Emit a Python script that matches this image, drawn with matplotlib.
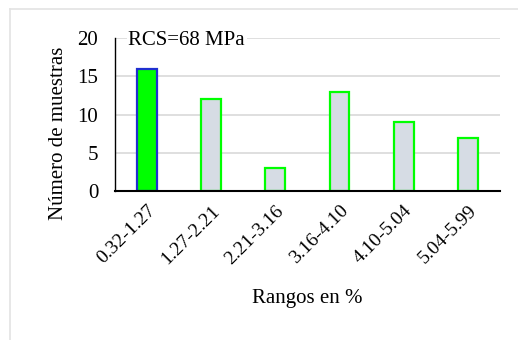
import matplotlib
matplotlib.use("Agg")
import matplotlib.pyplot as plt
from matplotlib.lines import Line2D

plt.rcParams["font.family"] = ["Liberation Serif", "DejaVu Serif"]

rangos = ["0.32-1.27", "1.27-2.21", "2.21-3.16", "3.16-4.10", "4.10-5.04", "5.04-5.99"]
muestras = [16, 12, 3, 13, 9, 7]

fill_colors = ["#00FF00"] + ["#D6DCE4"] * 5
edge_colors = ["#1F2FD0"] + ["#00FF00"] * 5

fig = plt.figure(figsize=(5.18, 3.40), dpi=100)
ax = fig.add_axes([0.222, 0.438, 0.743, 0.45])

x = list(range(len(rangos)))
ax.bar(x, muestras, width=0.31, color=fill_colors, edgecolor=edge_colors,
       linewidth=1.6, zorder=3)

ax.set_xlim(-0.5, len(rangos) - 0.5)
ax.set_ylim(0, 20)
ax.set_yticks([0, 5, 10, 15, 20])
ax.yaxis.grid(True, color="#D9D9D9", linewidth=1.2, zorder=0)
ax.set_axisbelow(True)

for side in ("top", "right"):
    ax.spines[side].set_visible(False)
ax.spines["left"].set_color("black")
ax.spines["left"].set_linewidth(1.0)
ax.spines["bottom"].set_color("black")
ax.spines["bottom"].set_linewidth(1.5)
ax.spines["bottom"].set_zorder(4)

ax.set_xticks(x)
ax.set_xticklabels(rangos, rotation=45, ha="right", rotation_mode="anchor",
                   fontsize=14)
ax.tick_params(axis="x", length=0, pad=8)
ax.tick_params(axis="y", length=0, pad=12, labelsize=15)

ax.set_ylabel("Número de muestras", fontsize=15)
ax.yaxis.set_label_coords(-0.122, 0.38)
ax.set_xlabel("Rangos en %", fontsize=15)
ax.xaxis.set_label_coords(0.5, -0.64)

ax.text(0.035, 0.985, "RCS=68 MPa", transform=ax.transAxes, fontsize=15,
        va="center", ha="left", zorder=5,
        bbox=dict(facecolor="white", edgecolor="none", pad=1))

# light frame on the left and top edges of the chart area
fig.add_artist(Line2D([10 / 518, 10 / 518], [0, 1 - 9 / 340],
                      transform=fig.transFigure, color="#E3E3E3", linewidth=1.2))
fig.add_artist(Line2D([10 / 518, 1], [1 - 9 / 340, 1 - 9 / 340],
                      transform=fig.transFigure, color="#E3E3E3", linewidth=1.2))

fig.savefig("out.png", dpi=100, facecolor="white")
